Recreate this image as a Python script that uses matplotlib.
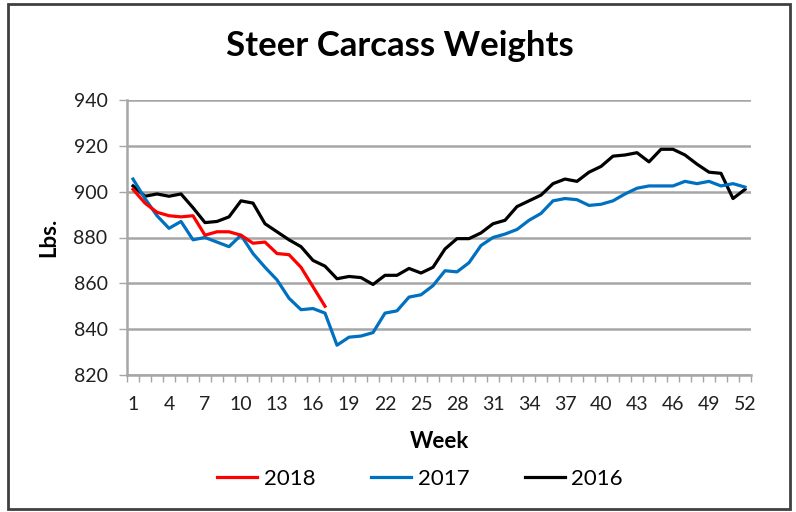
import numpy as np
import matplotlib
matplotlib.use("Agg")
import matplotlib.pyplot as plt
from matplotlib.patches import Rectangle

plt.rcParams['font.family'] = ['Lato', 'DejaVu Sans']

# Weekly steer carcass weights (lbs.)
weeks = np.arange(1, 53)
w2018 = [901, 895, 891, 889.5, 889, 889.5, 881, 882.5, 882.5, 881,
         877.5, 878, 873, 872.5, 867, 858.5, 850]
w2017 = [905.5, 897, 889.5, 884, 887, 879, 880, 878, 876, 881,
         873, 867, 861.5, 853.5, 848.5, 849, 847, 833, 836.5, 837,
         838.5, 847, 848, 854, 855, 859, 865.5, 865, 869, 876.5,
         880, 881.5, 883.5, 887.5, 890.5, 896, 897, 896.5, 894, 894.5,
         896, 899, 901.5, 902.5, 902.5, 902.5, 904.5, 903.5, 904.5, 902.5,
         903.5, 902]
w2016 = [902.5, 898, 899, 898, 899, 893, 886.5, 887, 889, 896,
         895, 886, 882.5, 879, 876, 870, 867.5, 862, 863, 862.5,
         859.5, 863.5, 863.5, 866.5, 864.5, 867, 875, 879.5, 879.5, 882,
         886, 887.5, 893.5, 896, 898.5, 903.5, 905.5, 904.5, 908.5, 911,
         915.5, 916, 917, 913, 918.5, 918.5, 916, 912, 908.5, 908,
         897, 901]
yticks = [820, 840, 860, 880, 900, 920, 940]
xticklabels = list(range(1, 53, 3))

W, H = 796, 512
fig = plt.figure(figsize=(W / 100, H / 100), dpi=100)
ax = fig.add_axes([127 / W, 1 - 375 / H, 624 / W, 275 / H])

grid_c = '#a6a6a6'
ax.plot(weeks[:len(w2018)], w2018, color='#ff0000', lw=2.3, label='2018', zorder=4)
ax.plot(weeks, w2017, color='#0070c0', lw=2.3, label='2017', zorder=3)
ax.plot(weeks, w2016, color='black', lw=2.3, label='2016', zorder=2)

ax.set_xlim(0.5, 52.5)
ax.set_ylim(820, 940)
ax.set_yticks(yticks)
ax.set_yticklabels([str(v) for v in yticks])
ax.set_xticks(xticklabels)
ax.set_xticklabels([str(v) for v in xticklabels])
ax.set_xticks(np.arange(0.5, 53, 1), minor=True)
ax.tick_params(axis='x', which='major', length=0, pad=15, labelsize=14, colors='#202020')
ax.tick_params(axis='x', which='minor', length=5, width=1, color=grid_c, direction='out')
ax.tick_params(axis='y', length=6, width=1, color=grid_c, pad=8, labelsize=14, colors='#202020')
ax.yaxis.grid(True, color=grid_c, lw=1.8)
ax.set_axisbelow(True)
for s in ['top', 'right']:
    ax.spines[s].set_visible(False)
for s in ['left', 'bottom']:
    ax.spines[s].set_color(grid_c)
    ax.spines[s].set_linewidth(1.8)

ax.set_xlabel('Week', fontsize=16, fontweight='bold', labelpad=13)
ax.set_ylabel('Lbs.', fontsize=16, fontweight='bold', labelpad=10)
fig.text(400 / W, 1 - 46 / H, 'Steer Carcass Weights', ha='center', va='center',
         fontsize=25, fontweight='bold')

fig.legend(loc='center', bbox_to_anchor=(420 / W, 1 - 479 / H), ncol=3, frameon=False,
           fontsize=16, handlelength=1.8, handletextpad=0.3, columnspacing=2.5)

fig.patches.append(Rectangle((8 / W, 3 / H), 782 / W, 505 / H, transform=fig.transFigure,
                             fill=False, edgecolor='#404040', lw=2))

plt.savefig('out.png', dpi=100)
